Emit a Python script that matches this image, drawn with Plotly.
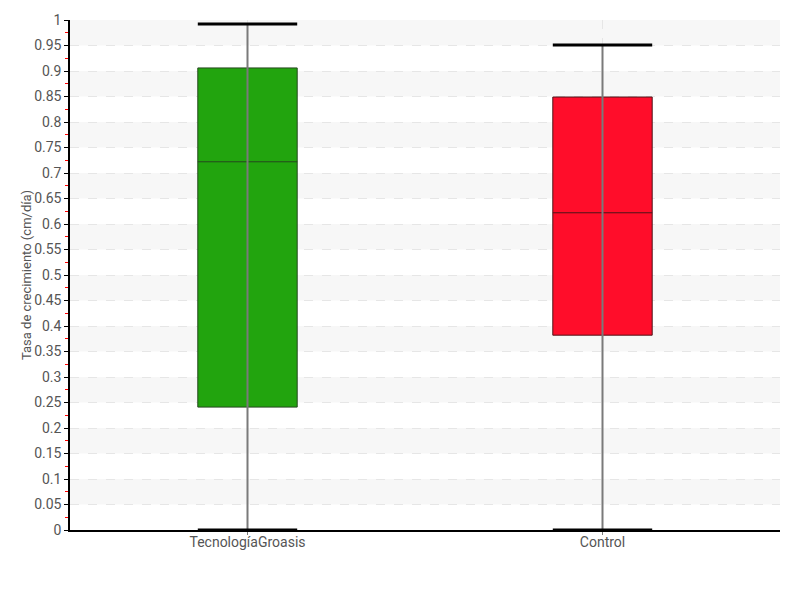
import plotly.graph_objects as go

categories = ["TecnologíaGroasis", "Control"]
lower_whisker = [0.0, 0.0]
q1_values = [0.241, 0.382]
median_values = [0.722, 0.622]
q3_values = [0.906, 0.849]
upper_whisker = [0.992, 0.951]
fill_colors = ["#22a40e", "#ff0d2a"]
line_colors = ["#25481e", "#4d1418"]
y_ticks = [round(i * 0.05, 2) for i in range(21)]
y_tick_labels = [("%g" % v) for v in y_ticks]

FONT = "Roboto, sans-serif"
box_w = 0.28
positions = list(range(len(categories)))

fig = go.Figure()

# whiskers (vertical grey lines)
for i, p in enumerate(positions):
    fig.add_trace(go.Scatter(x=[p, p], y=[lower_whisker[i], upper_whisker[i]], mode="lines",
                             line=dict(color="#7a7a7a", width=2), showlegend=False, hoverinfo="skip"))
# caps
for i, p in enumerate(positions):
    for yv in (lower_whisker[i], upper_whisker[i]):
        fig.add_trace(go.Scatter(x=[p - box_w / 2, p + box_w / 2], y=[yv, yv], mode="lines",
                                 line=dict(color="black", width=3), showlegend=False, hoverinfo="skip"))
# boxes
for i, p in enumerate(positions):
    fig.add_trace(go.Box(x=[p], q1=[q1_values[i]], median=[median_values[i]], q3=[q3_values[i]],
                         lowerfence=[q1_values[i]], upperfence=[q3_values[i]],
                         width=box_w, fillcolor=fill_colors[i],
                         line=dict(color=line_colors[i], width=1), whiskerwidth=0,
                         name=categories[i], showlegend=False))

# alternating bands
shapes = []
for k in range(len(y_ticks) - 1):
    if k % 2 == 1:
        shapes.append(dict(type="rect", xref="paper", yref="y", x0=0, x1=1,
                           y0=y_ticks[k], y1=y_ticks[k + 1], fillcolor="#f7f7f7",
                           line=dict(width=0), layer="below"))

fig.update_layout(
    width=800, height=600,
    margin=dict(l=62, r=28, t=12, b=78),
    plot_bgcolor="rgba(0,0,0,0)", paper_bgcolor="white",
    font=dict(family=FONT, size=14, color="#555555"),
    shapes=shapes,
    xaxis=dict(range=[-0.5, 1.5], tickvals=positions, ticktext=categories, automargin=False,
               showgrid=True, gridcolor="#e6e6e6", griddash="dash", gridwidth=1,
               showline=True, linecolor="black", linewidth=1.5,
               ticks="outside", ticklen=3, tickcolor="#7a7a7a", zeroline=False,
               ticklabelstandoff=-5,
               tickfont=dict(size=14, color="#555555")),
    yaxis=dict(range=[0, 1], tickvals=y_ticks, ticktext=y_tick_labels, automargin=False,
               showgrid=True, gridcolor="#e6e6e6", griddash="dash", gridwidth=1,
               showline=True, linecolor="black", linewidth=1.5,
               ticks="outside", ticklen=4, tickcolor="black", zeroline=False,
               minor=dict(tickvals=[round(v + 0.025, 3) for v in y_ticks[:-1]],
                          ticks="outside", ticklen=3, tickcolor="red", showgrid=False),
               title=dict(text="Tasa de crecimiento (cm/día)", font=dict(size=13, color="#555555"), standoff=0),
               tickfont=dict(size=14, color="#555555")),
)

fig.write_html("out.html")
